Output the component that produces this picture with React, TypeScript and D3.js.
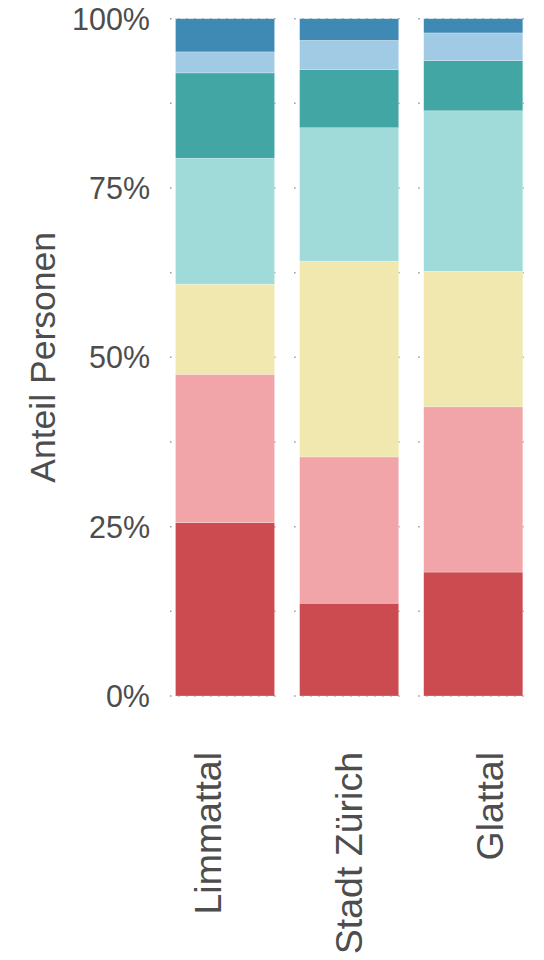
import { useMemo } from "react";
import * as d3 from "d3";

const WIDTH = 544;
const HEIGHT = 960;
const PLOT = { left: 170, right: 528.3, top: 18.7, bottom: 696 };
const TEXT_COLOR = "#4d4d4d";
const FONT = "'Liberation Sans', Arial, sans-serif";

const regions = ["Limmattal", "Stadt Zürich", "Glattal"];
const groups = ["g1", "g2", "g3", "g4", "g5", "g6", "g7"];
const colors = ["#cb4b51", "#f2a5a8", "#f0e8ae", "#a0dbda", "#41a6a4", "#a1cbe5", "#3f8ab4"];

// share per group, bottom to top (percent)
const limmattal = [25.6, 21.9, 13.3, 18.6, 12.6, 3.1, 4.9];
const stadtZuerich = [13.7, 21.6, 28.9, 19.7, 8.6, 4.3, 3.2];
const glattal = [18.3, 24.4, 20.0, 23.7, 7.4, 4.1, 2.1];

const yTicks = [0, 25, 50, 75, 100];
const yGrid = [0, 12.5, 25, 37.5, 50, 62.5, 75, 87.5, 100];

export default function App() {
  const rows = useMemo(() => {
    const lists = [limmattal, stadtZuerich, glattal];
    return regions.map((r, i) => {
      const row: Record<string, any> = { region: r };
      groups.forEach((g, j) => (row[g] = lists[i][j]));
      return row;
    });
  }, []);

  const series = useMemo(() => d3.stack().keys(groups)(rows as any), [rows]);

  const xScale = d3
    .scaleBand()
    .domain(regions)
    .range([PLOT.left, PLOT.right])
    .paddingInner(14 / 124)
    .paddingOuter(0);
  const bw = xScale.bandwidth();
  const inset = bw * 0.05;

  // the category labels sit on their own, slightly wider spacing
  const labelScale = d3.scalePoint().domain(regions).range([221, 503]);

  const yScale = d3.scaleLinear().domain([0, 100]).range([PLOT.bottom, PLOT.top]);

  return (
    <svg
      width={WIDTH}
      height={HEIGHT}
      style={{ position: "absolute", left: 0, top: 0, background: "#fff" }}
      fontFamily={FONT}
    >
      {/* panel grid */}
      {regions.map((r) => (
        <g key={r}>
          {yGrid.map((t) => (
            <line
              key={t}
              x1={xScale(r)!}
              x2={xScale(r)! + bw}
              y1={yScale(t)}
              y2={yScale(t)}
              stroke="#999"
              strokeWidth={1.5}
              strokeDasharray="1.5 6.5"
            />
          ))}
        </g>
      ))}

      {/* stacked bars */}
      {series.map((s, i) => (
        <g key={s.key} fill={colors[i]}>
          {s.map((d: any) => (
            <rect
              key={d.data.region}
              x={xScale(d.data.region)! + inset}
              width={bw - 2 * inset}
              y={yScale(d[1])}
              height={yScale(d[0]) - yScale(d[1])}
              stroke="#fff"
              strokeOpacity={0.4}
              strokeWidth={0.6}
            />
          ))}
        </g>
      ))}

      {/* y tick labels */}
      {yTicks.map((t) => (
        <text
          key={t}
          x={150}
          y={yScale(t)}
          dy="0.36em"
          textAnchor="end"
          fontSize={30.5}
          fill={TEXT_COLOR}
        >
          {t + "%"}
        </text>
      ))}

      {/* y title */}
      <text
        transform={`translate(55,${(PLOT.top + PLOT.bottom) / 2}) rotate(-90)`}
        textAnchor="middle"
        fontSize={35.5}
        fill={TEXT_COLOR}
      >
        Anteil Personen
      </text>

      {/* x labels */}
      {regions.map((r) => (
        <text
          key={r}
          transform={`translate(${labelScale(r)},752) rotate(-90)`}
          textAnchor="end"
          fontSize={37.5}
          fill={TEXT_COLOR}
        >
          {r}
        </text>
      ))}
    </svg>
  );
}
